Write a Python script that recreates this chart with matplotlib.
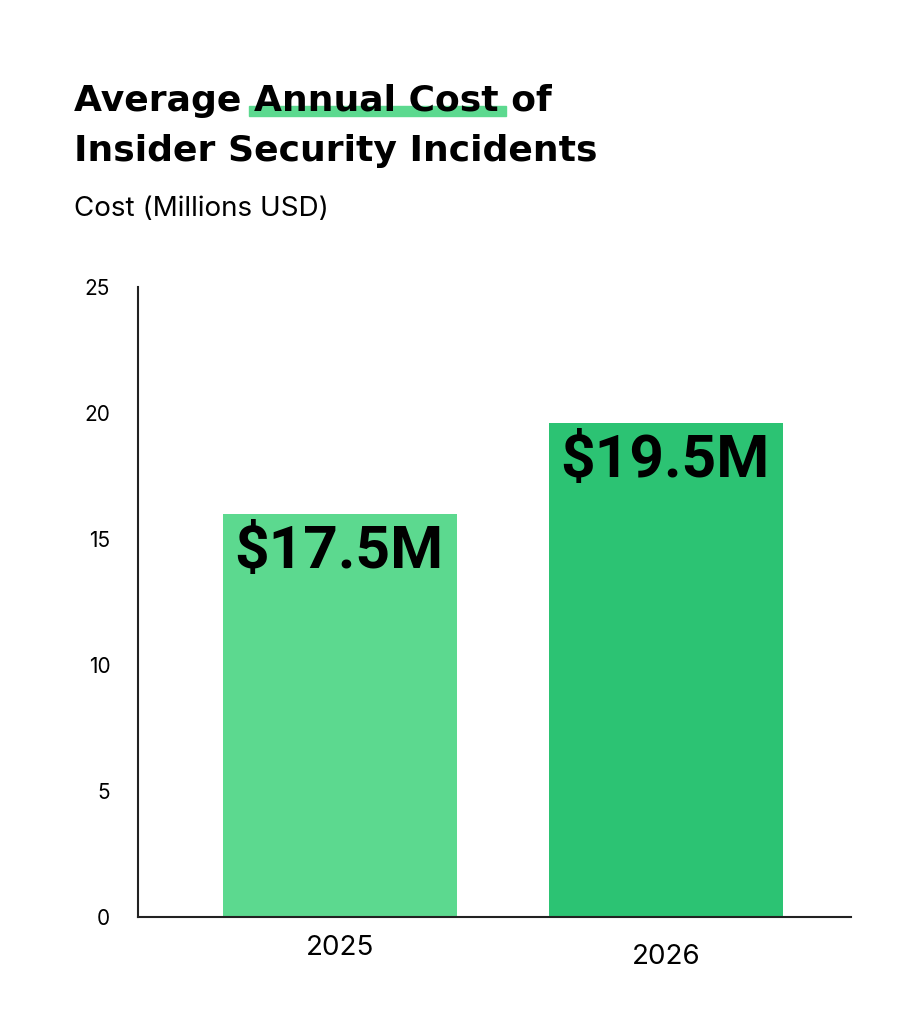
"""
Average annual cost of insider security incidents, 2025 vs 2026
"""

import matplotlib
matplotlib.use("Agg")
import matplotlib.pyplot as plt
from matplotlib.patches import Rectangle

years = ["2025", "2026"]
bar_heights = [16.0, 19.6]
bar_labels = ["$17.5M", "$19.5M"]
bar_colors = ["#5cd98f", "#2cc373"]
y_ticks = [0, 5, 10, 15, 20, 25]

plt.rcParams["font.family"] = ["Inter", "DejaVu Sans"]

fig = plt.figure(figsize=(9, 10.24), dpi=100)
ax = fig.add_axes([0.1533, 0.1045, 0.7923, 0.6152])

x = range(len(years))
bars = ax.bar(x, bar_heights, width=0.718, color=bar_colors)
ax.set_xlim(-0.62, 1.567)
ax.set_ylim(0, 25)
ax.set_yticks(y_ticks)
ax.set_yticklabels([str(t) for t in y_ticks], fontsize=15)
ax.tick_params(axis="y", length=0, pad=20)
ax.set_xticks([])

for side in ["top", "right"]:
    ax.spines[side].set_visible(False)
for side in ["left", "bottom"]:
    ax.spines[side].set_color("#222222")
    ax.spines[side].set_linewidth(1.5)

# value labels sit inside the top-left of each bar
for bar, label in zip(bars, bar_labels):
    ax.annotate(label, (bar.get_x(), bar.get_height()),
                xytext=(8, -7), textcoords="offset points",
                ha="left", va="top", fontsize=43.5, fontweight="bold",
                family=["Roboto", "DejaVu Sans"], color="black")

# year labels (the second one sits a little lower in the original)
year_offsets = [-31, -40]
for i, (year, off) in enumerate(zip(years, year_offsets)):
    ax.annotate(year, (i, 0), xytext=(0, off * 0.72), textcoords="offset points",
                ha="center", va="center", fontsize=20, color="black")

# title with green highlight under "Annual Cost"
title_x = 74 / 900
line1_y = 1 - 111 / 1024
line2_y = 1 - 161 / 1024
title_kw = dict(fontsize=26, fontweight="bold", color="black",
                family=["DejaVu Sans"], ha="left", va="baseline")

renderer = fig.canvas.get_renderer()
probe_a = fig.text(title_x, line1_y, "Average ", **title_kw)
probe_b = fig.text(title_x, line1_y, "Average Annual Cost ", **title_kw)
ext_a = probe_a.get_window_extent(renderer)
ext_b = probe_b.get_window_extent(renderer)
probe_a.remove()
probe_b.remove()

W, H = fig.get_size_inches() * fig.dpi
x0 = ext_a.x1 / W - 0.006
x1 = ext_b.x1 / W - 0.006
band = Rectangle((x0, 1 - 116 / 1024), x1 - x0, 10 / 1024,
                 transform=fig.transFigure, color="#5cd98f", zorder=0)
fig.patches.append(band)

fig.text(title_x, line1_y, "Average Annual Cost of", zorder=2, **title_kw)
fig.text(title_x, line2_y, "Insider Security Incidents", zorder=2, **title_kw)
fig.text(title_x, 1 - 216 / 1024, "Cost (Millions USD)", fontsize=20,
         color="black", ha="left", va="baseline")

fig.savefig("out.png", dpi=100, facecolor="white")
